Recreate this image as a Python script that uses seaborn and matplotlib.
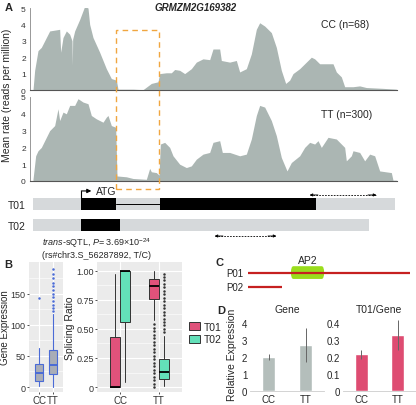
import matplotlib
matplotlib.use("Agg")
import matplotlib.pyplot as plt
import matplotlib.transforms as mtransforms
from matplotlib.patches import Rectangle, FancyBboxPatch
import pandas as pd
import seaborn as sns

# ---- A: mean coverage along the gene (position in bp-like units)
cc_pos = [100, 105, 115, 125, 135, 150, 180, 183, 190, 200, 210, 217, 218, 219, 225, 240, 255, 265,
          270, 280, 300, 320, 335, 350, 355, 400, 430, 455, 475, 480, 500, 515, 525, 540, 555, 575,
          590, 610, 630, 640, 660, 665, 690, 710, 720, 740, 755, 770, 780, 795, 815, 830, 845, 858,
          870, 880, 900, 920, 935, 945, 960, 975, 1000, 1010, 1025, 1035, 1060, 1080, 1100, 1150, 1190]
cc_rate = [0, 1.2, 2.4, 2.6, 3.0, 3.6, 3.7, 2.3, 3.2, 3.6, 3.4, 3.0, 1.5, 3.1, 3.6, 4.3, 5.1, 5.0,
           4.0, 3.2, 2.3, 1.3, 0.7, 0.6, 0.05, 0.05, 0.02, 0.4, 0.5, 1.0, 1.05, 1.05, 1.25, 1.2, 1.0, 1.3,
           1.7, 1.9, 1.85, 2.5, 2.5, 1.8, 1.7, 1.8, 1.1, 1.3, 2.2, 3.7, 4.1, 3.9, 3.5, 2.6, 1.2, 0.4,
           0.6, 1.0, 1.3, 1.7, 2.0, 1.9, 1.6, 1.6, 1.6, 1.1, 0.8, 0.2, 0.2, 0.25, 0.15, 0.1, 0.05]
tt_pos = [100, 108, 115, 125, 140, 150, 165, 175, 180, 190, 200, 210, 225, 235, 250, 265, 275, 290,
          300, 310, 320, 325, 335, 348, 352, 380, 400, 440, 450, 455, 470, 478, 482, 495, 510, 520,
          540, 560, 575, 590, 610, 630, 640, 660, 668, 690, 720, 740, 755, 770, 780, 795, 815, 830,
          845, 862, 875, 900, 915, 930, 945, 955, 965, 985, 1010, 1020, 1035, 1040, 1055, 1060, 1080,
          1095, 1110, 1125, 1140, 1175, 1180, 1190]
tt_rate = [0.1, 1.5, 1.8, 2.0, 2.6, 3.0, 3.3, 4.3, 3.6, 4.1, 4.0, 4.5, 4.5, 4.9, 4.7, 4.6, 3.9, 3.7,
           3.6, 3.5, 3.8, 3.9, 3.3, 3.2, 0.3, 0.25, 0.15, 0.1, 0.75, 0.55, 0.5, 0.35, 2.2, 2.3, 2.0, 1.5,
           1.0, 0.8, 0.9, 1.3, 1.6, 1.7, 2.3, 2.4, 1.7, 1.7, 1.5, 1.6, 2.5, 3.9, 4.5, 4.4, 3.6, 2.7,
           1.4, 0.6, 1.1, 1.5, 2.0, 2.3, 2.2, 2.4, 2.0, 2.6, 2.5, 2.3, 2.0, 1.2, 1.5, 1.8, 1.7,
           1.2, 1.6, 1.5, 0.6, 0.5, 0.05, 0.05]

# transcript models
t01_span = (100, 1185)
t01_exons = [(245, 350), (480, 950)]
t02_span = (100, 1107)
t02_exons = [(245, 360)]
atg_pos = 245
primer_t01 = (930, 1130)
primer_t02 = (645, 830)
highlight = (350, 478)

# ---- B: box statistics
genotypes = ["CC", "TT"]
expr_q1 = [10, 21]
expr_med = [22, 35]
expr_q3 = [37, 59]
expr_lo = [2, 0]
expr_hi = [62, 118]
expr_fliers = [[143], [122, 127, 132, 138, 144, 150, 156, 162, 168, 175, 182, 190]]

iso_names = ["T01", "T02"]
iso_q1 = {"T01": [0.0, 0.76], "T02": [0.56, 0.07]}
iso_med = {"T01": [0.0, 0.87], "T02": [1.0, 0.13]}
iso_q3 = {"T01": [0.43, 0.93], "T02": [1.0, 0.24]}
iso_lo = {"T01": [0.0, 0.58], "T02": [0.04, 0.01]}
iso_hi = {"T01": [0.97, 1.0], "T02": [1.0, 0.44]}
iso_fliers = {"T01": [[], [0.0, 0.03, 0.06, 0.09, 0.12, 0.15, 0.18, 0.21, 0.24, 0.27, 0.3, 0.33, 0.36,
                           0.39, 0.42, 0.45, 0.48, 0.51, 0.54]],
              "T02": [[], [0.47, 0.5, 0.53, 0.56, 0.59, 0.62, 0.65, 0.68, 0.71, 0.74, 0.77, 0.8, 0.83,
                           0.86, 0.89, 0.92, 0.95, 0.97]]}

# ---- C: protein models (relative length)
p01_len = 100
p02_len = 21
ap2_domain = (26.5, 47)

# ---- D: qPCR relative expression
gene_rel = [2.0, 2.7]
gene_err_lo = [1.8, 1.7]
gene_err_hi = [2.2, 3.7]
ratio_rel = [0.215, 0.33]
ratio_err_lo = [0.19, 0.24]
ratio_err_hi = [0.24, 0.42]

sns.set_theme(style="white")
plt.rcParams["font.family"] = ["Liberation Sans", "DejaVu Sans"]
plt.rcParams["mathtext.fontset"] = "custom"
plt.rcParams["mathtext.rm"] = "Liberation Sans"
plt.rcParams["mathtext.it"] = "Liberation Sans:italic"

W, H = 416, 406
fig = plt.figure(figsize=(W / 100, H / 100), dpi=100)


def ax_px(left, top, right, bottom):
    return fig.add_axes([left / W, 1 - bottom / H, (right - left) / W, (bottom - top) / H])


cov_color = "#ABB6B3"
axis_gray = "#888888"

# coverage panels
for top, bottom, pos, rate, label in [(9, 91, cc_pos, cc_rate, "CC (n=68)"),
                                      (98, 182, tt_pos, tt_rate, "TT (n=300)")]:
    ax = ax_px(30, top, 397, bottom)
    ax.fill_between(pos, rate, 0, color=cov_color, lw=0)
    ax.set_xlim(91, 1192)
    ax.set_ylim(0, 5)
    ax.set_yticks(range(6))
    ax.set_xticks([])
    ax.tick_params(axis="y", labelsize=6, length=2, width=0.6, pad=1, colors="#333333")
    for s in ["top", "right"]:
        ax.spines[s].set_visible(False)
    ax.spines["left"].set_color(axis_gray)
    ax.spines["left"].set_linewidth(0.6)
    ax.spines["bottom"].set_color("#555555")
    ax.spines["bottom"].set_linewidth(0.8)
    ax.patch.set_alpha(0)
    ax.text(965, 4.0, label, fontsize=7.5, ha="left", va="center")
    if label.startswith("CC"):
        ax_cc = ax

fig.text(196 / W, 1 - 8 / H, "GRMZM2G169382", fontsize=7, weight="bold", style="italic",
         ha="center", va="center")
fig.text(7 / W, 1 - 95 / H, "Mean rate (reads per million)", rotation=90, fontsize=7.5,
         ha="center", va="center")

# dashed highlight box spanning coverage + transcript
trans = mtransforms.blended_transform_factory(ax_cc.transData, fig.transFigure)
fig.patches.append(Rectangle((highlight[0], 1 - 190 / H), highlight[1] - highlight[0],
                             (190 - 31) / H, transform=trans, fill=False, ec="#F0A640",
                             ls=(0, (4, 3)), lw=1.0))

# transcript models
axt = ax_px(30, 185, 397, 245)
axt.set_xlim(91, 1192)
axt.set_ylim(1.9, -0.95)
bar_h = 0.57
for row, span, exons in [(0, t01_span, t01_exons), (1, t02_span, t02_exons)]:
    axt.barh(row, span[1] - span[0], left=span[0], height=bar_h, color="#D6D9DB", lw=0)
    for e0, e1 in exons:
        axt.barh(row, e1 - e0, left=e0, height=bar_h, color="black", lw=0)
axt.plot([t01_exons[0][1], t01_exons[1][0]], [0, 0], color="black", lw=0.7)
axt.plot([atg_pos, atg_pos], [-bar_h / 2, -0.62], color="black", lw=0.8)
axt.annotate("", xy=(atg_pos + 30, -0.62), xytext=(atg_pos, -0.62),
             arrowprops=dict(arrowstyle="-|>", lw=0.8, color="black", mutation_scale=6,
                             shrinkA=0, shrinkB=0))
axt.text(atg_pos + 44, -0.62, "ATG", fontsize=7.5, va="center", ha="left")
for (p0, p1), yrow in [(primer_t01, -0.43), (primer_t02, 1.52)]:
    axt.plot([p0, p1], [yrow, yrow], color="black", lw=0.6, ls=(0, (2, 1.5)))
    axt.annotate("", xy=(p0, yrow), xytext=(p0 + 25, yrow),
                 arrowprops=dict(arrowstyle="-|>", lw=0.6, color="black", mutation_scale=4,
                                 shrinkA=0, shrinkB=0))
    axt.annotate("", xy=(p1, yrow), xytext=(p1 - 25, yrow),
                 arrowprops=dict(arrowstyle="-|>", lw=0.6, color="black", mutation_scale=4,
                                 shrinkA=0, shrinkB=0))
axt.set_yticks([0, 1])
axt.set_yticklabels(iso_names, fontsize=7.5)
axt.tick_params(axis="y", length=0, pad=3)
axt.set_xticks([])
for s in axt.spines.values():
    s.set_visible(False)
axt.patch.set_alpha(0)


def gg_style(ax):
    ax.set_facecolor("#EBEBEB")
    for s in ax.spines.values():
        s.set_visible(False)
    ax.grid(True, which="major", color="white", lw=0.8)
    ax.grid(True, which="minor", axis="y", color="white", lw=0.4)
    ax.set_axisbelow(True)
    ax.tick_params(axis="both", labelsize=6.5, length=1.5, width=0.6, pad=0.8, colors="#333333",
                   bottom=True, left=True)
    ax.tick_params(axis="x", labelsize=7, pad=0.5)


# B: gene expression
axg = ax_px(29, 263, 63, 393)
stats = []
for i, g in enumerate(genotypes):
    stats.append(dict(q1=expr_q1[i], med=expr_med[i], q3=expr_q3[i], whislo=expr_lo[i],
                      whishi=expr_hi[i], fliers=expr_fliers[i], label=g))
blue = "#4A6BD6"
axg.bxp(stats, positions=[0, 1], widths=0.6, patch_artist=True,
        boxprops=dict(facecolor="#A9ADB7", edgecolor=blue, lw=0.8),
        medianprops=dict(color=blue, lw=1.4), whiskerprops=dict(color=blue, lw=0.8),
        capprops=dict(lw=0), flierprops=dict(marker="o", ms=0.8, mfc=blue, mec=blue))
gg_style(axg)
axg.set_xlim(-0.75, 1.75)
axg.set_ylim(-8, 201)
axg.set_yticks([0, 50, 100, 150])
axg.set_yticks([25, 75, 125, 175], minor=True)
axg.tick_params(axis="y", which="minor", length=0)
axg.set_xticks([0, 1])
axg.set_xticklabels(genotypes)
fig.text(5 / W, 1 - 328 / H, "Gene Expression", rotation=90, fontsize=7,
         ha="center", va="center")

# B: splicing ratio
axs = ax_px(97, 263, 182, 393)
iso_colors = {"T01": "#E0527B", "T02": "#63E0B9"}
bw = 0.26
for k, iso in enumerate(iso_names):
    off = (k - 0.5) * bw
    st = []
    for i, g in enumerate(genotypes):
        st.append(dict(q1=iso_q1[iso][i], med=iso_med[iso][i], q3=iso_q3[iso][i],
                       whislo=iso_lo[iso][i], whishi=iso_hi[iso][i], fliers=iso_fliers[iso][i]))
    axs.bxp(st, positions=[i + off for i in range(2)], widths=bw, patch_artist=True,
            manage_ticks=False,
            boxprops=dict(facecolor=iso_colors[iso], edgecolor="#333333", lw=0.7),
            medianprops=dict(color="black", lw=1.3), whiskerprops=dict(color="#333333", lw=0.7),
            capprops=dict(lw=0), flierprops=dict(marker="o", ms=0.8, mfc="#333333", mec="#333333"))
gg_style(axs)
axs.set_xlim(-0.6, 1.6)
axs.set_ylim(-0.043, 1.077)
axs.set_yticks([0, 0.25, 0.5, 0.75, 1.0])
axs.set_yticklabels(["0", "0.25", "0.50", "0.75", "1.00"])
axs.set_yticks([0.125, 0.375, 0.625, 0.875], minor=True)
axs.tick_params(axis="y", which="minor", length=0)
axs.set_xticks([0, 1])
axs.set_xticklabels(genotypes)
fig.text(70 / W, 1 - 328 / H, "Splicing Ratio", rotation=90, fontsize=7.5,
         ha="center", va="center")
handles = [Rectangle((0, 0), 1, 1, fc=iso_colors[n], ec="#333333", lw=0.7) for n in iso_names]
fig.legend(handles, iso_names, loc="center left", bbox_to_anchor=(182 / W, 1 - 334 / H),
           frameon=False, fontsize=7.5, handlelength=1.0, handleheight=0.8, handletextpad=0.4,
           labelspacing=0.25, borderpad=0.2)
fig.text(97 / W, 1 - 243 / H, r"$\it{trans}$-sQTL, $\it{P}$= 3.69×10$^{-24}$", fontsize=6.5,
         ha="center", va="center")
fig.text(97 / W, 1 - 256 / H, "(rs#chr3.S_56287892, T/C)", fontsize=6.5, ha="center", va="center")

# C: protein models
axc = ax_px(248, 262, 410, 296)
axc.set_xlim(0, p01_len)
axc.set_ylim(1.55, -0.8)
axc.plot([0, p01_len], [0, 0], color="#C62020", lw=1.6, solid_capstyle="butt")
axc.plot([0, p02_len], [1, 1], color="#C62020", lw=1.6, solid_capstyle="butt")
axc.add_patch(FancyBboxPatch((ap2_domain[0], -0.44), ap2_domain[1] - ap2_domain[0], 0.88,
                             boxstyle="round,pad=0,rounding_size=1.5", fc="#9ADD1C", ec="none",
                             mutation_aspect=0.3))
axc.text(sum(ap2_domain) / 2, -0.85, "AP2", fontsize=7.5, ha="center", va="center")
axc.text(-3, 0, "P01", fontsize=7, ha="right", va="center")
axc.text(-3, 1, "P02", fontsize=7, ha="right", va="center")
axc.axis("off")

# D: relative expression bars
for (left, right, vals, lo, hi, color, ymax, ticks, tlabels, title) in [
        (250, 324, gene_rel, gene_err_lo, gene_err_hi, "#B4BEBB", 4.4, [0, 1, 2, 3, 4],
         ["0", "1", "2", "3", "4"], "Gene"),
        (343, 416, ratio_rel, ratio_err_lo, ratio_err_hi, "#DE4C72", 0.44,
         [0, 0.1, 0.2, 0.3, 0.4], ["0", "0.1", "0.2", "0.3", "0.4"], "T01/Gene")]:
    top = 392 - (392 - 324) * ymax / (4 if ymax > 1 else 0.4)
    ax = ax_px(left, top, right, 392)
    df = pd.DataFrame({"genotype": genotypes, "value": vals})
    sns.barplot(data=df, x="genotype", y="value", color=color, width=0.35, ax=ax,
                errorbar=None, saturation=1)
    yerr = [[v - l for v, l in zip(vals, lo)], [h - v for v, h in zip(vals, hi)]]
    ax.errorbar([0, 1], vals, yerr=yerr, fmt="none", ecolor="#666666", elinewidth=0.7, capsize=0)
    ax.set_xlim(-0.5, 1.5)
    ax.set_ylim(0, ymax)
    ax.set_yticks(ticks)
    ax.set_yticklabels(tlabels)
    ax.tick_params(labelsize=7, length=0, pad=2)
    ax.set_xlabel("")
    ax.set_ylabel("")
    for s in ["top", "right", "left"]:
        ax.spines[s].set_visible(False)
    ax.spines["bottom"].set_color("#CCCCCC")
    ax.spines["bottom"].set_linewidth(0.6)
    ax.set_title(title, fontsize=7.5, pad=3)
    ax.patch.set_alpha(0)

fig.text(232 / W, 1 - 355 / H, "Relative Expression", rotation=90, fontsize=7.5,
         ha="center", va="center")

# panel letters
for letter, x, y in [("A", 5, 8), ("B", 4, 265), ("C", 215, 263), ("D", 217, 311)]:
    fig.text(x / W, 1 - y / H, letter, fontsize=8, weight="bold", ha="left", va="center")

fig.savefig("out.png", dpi=100)
